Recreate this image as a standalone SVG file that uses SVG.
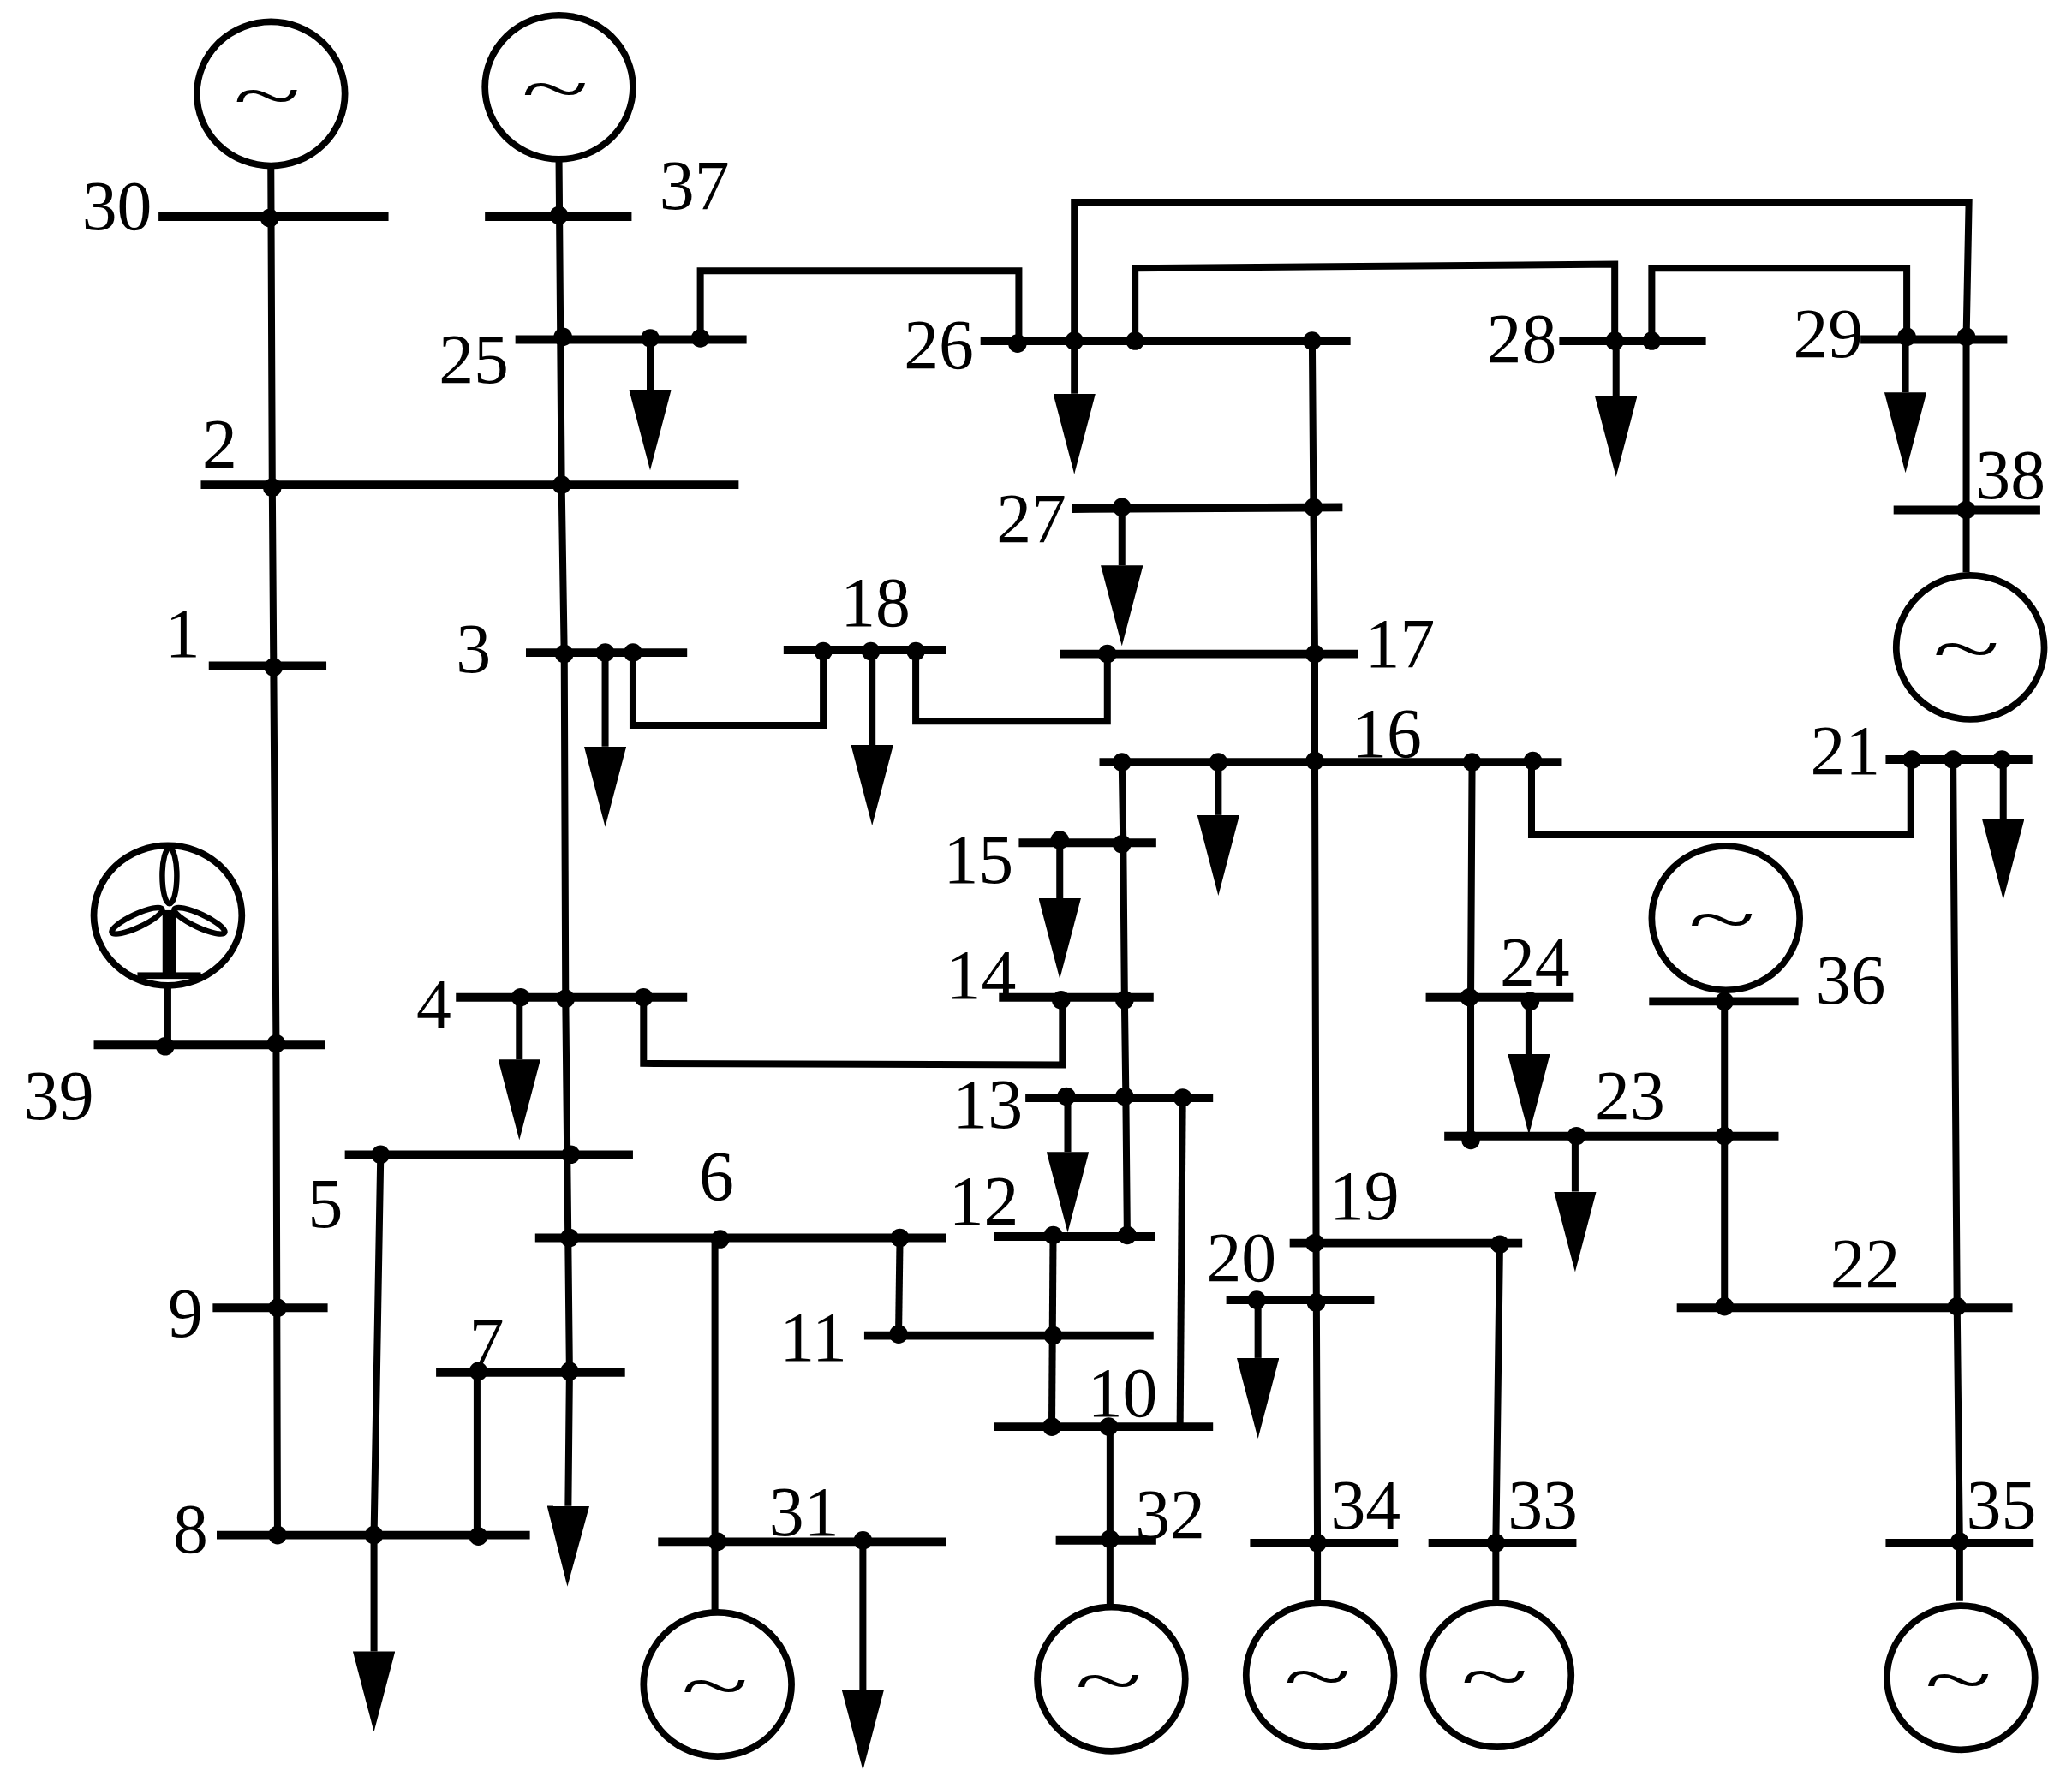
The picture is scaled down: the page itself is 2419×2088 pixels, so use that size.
<svg xmlns="http://www.w3.org/2000/svg" width="2419" height="2088" viewBox="0 0 2419 2088">
<defs>
<style>
.l{fill:none;stroke:#000;stroke-width:5.2}
.a{fill:none;stroke:#000;stroke-width:5.2;marker-end:url(#arrow)}
.b{stroke:#000;stroke-width:6.4}
.d{fill:#000}
.g{fill:#fff;stroke:#000;stroke-width:5}
text{font-family:"Liberation Serif","Times New Roman",serif;font-size:53px;fill:#000}
.t{font-size:94px;text-anchor:middle}
</style>
<marker id="arrow" markerUnits="userSpaceOnUse" markerWidth="61" markerHeight="32" refX="0" refY="16" orient="auto" viewBox="0 0 61 32"><polygon points="0,0 61,16 0,32" fill="#000"/></marker>
</defs>
<rect width="2419" height="2088" fill="#fff"/>
<g transform="scale(1.5427)">
<g id="connectors">
<polyline class="l" points="205,127 206,367 207,505 209,790 210,1162"/>
<polyline class="a" points="423,122 425,367 427,496 428,755 431,1039 430,1140"/>
<polyline class="l" points="530,257 530,205 771,205 771,258"/>
<polyline class="l" points="813,258 813,153 1490,153 1488,257 1488,433"/>
<polyline class="l" points="859,258 859,203 1222,200 1222,258"/>
<polyline class="l" points="1250,258 1250,203 1443,203 1443,257"/>
<polyline class="l" points="993,258 994,384 995,495 995,577 996,941 997,1168 997,1212"/>
<polyline class="l" points="479,494 479,549 623,549 623,493"/>
<polyline class="l" points="693,492 693,546 838,546 838,495"/>
<polyline class="l" points="849,577 850,638 851,755 852,831 853,936"/>
<polyline class="l" points="1159,577 1159,632 1446,632 1446,575"/>
<polyline class="l" points="1114,577 1113,755 1113,862"/>
<polyline class="l" points="1478,575 1481,989 1483,1168 1483,1212"/>
<polyline class="l" points="1305,750 1305,990"/>
<polyline class="l" points="487,755 487,805 804,806 804,757"/>
<polyline class="l" points="895,831 893,1080"/>
<polyline class="l" points="797,935 796,1080"/>
<polyline class="l" points="681,937 680,1010"/>
<polyline class="l" points="541,937 541,1220"/>
<polyline class="l" points="840,1080 840,1215"/>
<polyline class="l" points="1135,941 1132,1168 1132,1212"/>
<polyline class="l" points="361,1039 361,1162"/>
<polyline class="a" points="288,874 283,1162 283,1250"/>
<polyline class="a" points="492,257 492,295"/>
<polyline class="a" points="813,258 813,298"/>
<polyline class="a" points="1223,258 1223,300"/>
<polyline class="a" points="1442,257 1442,297"/>
<polyline class="a" points="849,384 849,428"/>
<polyline class="a" points="458,494 458,565"/>
<polyline class="a" points="660,492 660,564"/>
<polyline class="a" points="922,577 922,617"/>
<polyline class="a" points="1516,575 1516,620"/>
<polyline class="a" points="802,636 802,680"/>
<polyline class="a" points="393,755 393,802"/>
<polyline class="a" points="808,831 808,872"/>
<polyline class="a" points="1157,756 1157,798"/>
<polyline class="a" points="1192,860 1192,902"/>
<polyline class="a" points="952,984 952,1028"/>
<polyline class="a" points="653,1166 653,1279"/>
</g>
<g id="gen30"><ellipse class="g" cx="205" cy="71" rx="56" ry="54.5"/><text class="t" transform="translate(202 90) scale(1 .55)">~</text></g>
<g id="gen37"><ellipse class="g" cx="423" cy="66" rx="56" ry="54.5"/><text class="t" transform="translate(420 85) scale(1 .55)">~</text></g>
<g id="gen38"><ellipse class="g" cx="1491" cy="490" rx="56" ry="54.5"/><text class="t" transform="translate(1488 509) scale(1 .55)">~</text></g>
<g id="gen36"><ellipse class="g" cx="1306" cy="695" rx="56" ry="54.5"/><text class="t" transform="translate(1303 714) scale(1 .55)">~</text></g>
<g id="gen31"><ellipse class="g" cx="543" cy="1275" rx="56" ry="54.5"/><text class="t" transform="translate(541 1294) scale(1 .55)">~</text></g>
<g id="gen32"><ellipse class="g" cx="841" cy="1271" rx="56" ry="54.5"/><text class="t" transform="translate(839 1290) scale(1 .55)">~</text></g>
<g id="gen34"><ellipse class="g" cx="999" cy="1268" rx="56" ry="54.5"/><text class="t" transform="translate(997 1287) scale(1 .55)">~</text></g>
<g id="gen33"><ellipse class="g" cx="1133" cy="1268" rx="56" ry="54.5"/><text class="t" transform="translate(1131 1287) scale(1 .55)">~</text></g>
<g id="gen35"><ellipse class="g" cx="1484" cy="1270" rx="56" ry="54.5"/><text class="t" transform="translate(1482 1289) scale(1 .55)">~</text></g>
<g id="wind39">
<line class="l" x1="127" y1="748" x2="127" y2="790"/>
<ellipse class="g" cx="127" cy="693" rx="56" ry="53"/>
<rect x="123" y="689" width="10.5" height="48" fill="#000"/>
<rect x="104" y="736" width="48" height="5" fill="#000"/>
<ellipse cx="128.3" cy="663" rx="5.5" ry="21" fill="none" stroke="#000" stroke-width="4.2"/>
<ellipse cx="103.7" cy="697" rx="21" ry="5" fill="none" stroke="#000" stroke-width="4.2" transform="rotate(-25 103.7 697)"/>
<ellipse cx="151" cy="697" rx="21" ry="5" fill="none" stroke="#000" stroke-width="4.2" transform="rotate(25 151 697)"/>
</g>
<g id="bus30"><line class="b" x1="120" y1="164" x2="294" y2="164"/><circle class="d" cx="204" cy="165" r="7"/><text x="62" y="174">30</text></g>
<g id="bus37"><line class="b" x1="367" y1="164" x2="478" y2="164"/><circle class="d" cx="423" cy="163" r="7"/><text x="499" y="158">37</text></g>
<g id="bus25"><line class="b" x1="390" y1="257" x2="565" y2="257"/><circle class="d" cx="426" cy="255" r="7"/><circle class="d" cx="492" cy="256" r="7"/><circle class="d" cx="530" cy="256" r="7"/><text x="332" y="290">25</text></g>
<g id="bus26"><line class="b" x1="742" y1="258" x2="1022" y2="258"/><circle class="d" cx="770" cy="260" r="7"/><circle class="d" cx="813" cy="258" r="7"/><circle class="d" cx="859" cy="258" r="7"/><circle class="d" cx="993" cy="258" r="7"/><text x="684" y="279">26</text></g>
<g id="bus28"><line class="b" x1="1180" y1="258" x2="1291" y2="258"/><circle class="d" cx="1222" cy="258" r="7"/><circle class="d" cx="1250" cy="258" r="7"/><text x="1125" y="274">28</text></g>
<g id="bus29"><line class="b" x1="1408" y1="257" x2="1519" y2="257"/><circle class="d" cx="1443" cy="255" r="7"/><circle class="d" cx="1488" cy="255" r="7"/><text x="1357" y="270">29</text></g>
<g id="bus2"><line class="b" x1="152" y1="367" x2="559" y2="367"/><circle class="d" cx="206" cy="369" r="7"/><circle class="d" cx="425" cy="367" r="7"/><text x="153" y="354">2</text></g>
<g id="bus38"><line class="b" x1="1433" y1="386" x2="1544" y2="386"/><circle class="d" cx="1488" cy="386" r="7"/><text x="1495" y="377">38</text></g>
<g id="bus27"><line class="b" x1="811" y1="385" x2="1016" y2="384"/><circle class="d" cx="849" cy="384" r="7"/><circle class="d" cx="994" cy="384" r="7"/><text x="754" y="410">27</text></g>
<g id="bus1"><line class="b" x1="158" y1="504" x2="247" y2="504"/><circle class="d" cx="207" cy="505" r="7"/><text x="125" y="497">1</text></g>
<g id="bus3"><line class="b" x1="398" y1="494" x2="520" y2="494"/><circle class="d" cx="427" cy="495" r="7"/><circle class="d" cx="458" cy="494" r="7"/><circle class="d" cx="479" cy="494" r="7"/><text x="345" y="509">3</text></g>
<g id="bus18"><line class="b" x1="593" y1="492" x2="716" y2="492"/><circle class="d" cx="623" cy="493" r="7"/><circle class="d" cx="659" cy="493" r="7"/><circle class="d" cx="693" cy="493" r="7"/><text x="636" y="474">18</text></g>
<g id="bus17"><line class="b" x1="802" y1="495" x2="1028" y2="495"/><circle class="d" cx="838" cy="495" r="7"/><circle class="d" cx="995" cy="495" r="7"/><text x="1033" y="505">17</text></g>
<g id="bus16"><line class="b" x1="832" y1="577" x2="1182" y2="577"/><circle class="d" cx="849" cy="577" r="7"/><circle class="d" cx="922" cy="577" r="7"/><circle class="d" cx="995" cy="576" r="7"/><circle class="d" cx="1114" cy="577" r="7"/><circle class="d" cx="1160" cy="576" r="7"/><text x="1023" y="573">16</text></g>
<g id="bus21"><line class="b" x1="1427" y1="575" x2="1538" y2="575"/><circle class="d" cx="1447" cy="575" r="7"/><circle class="d" cx="1478" cy="575" r="7"/><circle class="d" cx="1515" cy="575" r="7"/><text x="1370" y="586">21</text></g>
<g id="bus15"><line class="b" x1="771" y1="638" x2="875" y2="638"/><circle class="d" cx="802" cy="636" r="7"/><circle class="d" cx="849" cy="639" r="7"/><text x="714" y="668">15</text></g>
<g id="bus24"><line class="b" x1="1079" y1="755" x2="1191" y2="755"/><circle class="d" cx="1112" cy="755" r="7"/><circle class="d" cx="1158" cy="758" r="7"/><text x="1135" y="746">24</text></g>
<g id="bus14"><line class="b" x1="756" y1="755" x2="873" y2="755"/><circle class="d" cx="803" cy="757" r="7"/><circle class="d" cx="851" cy="757" r="7"/><text x="716" y="756">14</text></g>
<g id="bus4"><line class="b" x1="345" y1="755" x2="520" y2="755"/><circle class="d" cx="394" cy="755" r="7"/><circle class="d" cx="428" cy="756" r="7"/><circle class="d" cx="487" cy="755" r="7"/><text x="315" y="778">4</text></g>
<g id="bus36"><line class="b" x1="1248" y1="758" x2="1361" y2="758"/><circle class="d" cx="1305" cy="758" r="7"/><text x="1374" y="760">36</text></g>
<g id="bus39"><line class="b" x1="71" y1="791" x2="246" y2="791"/><circle class="d" cx="125" cy="792" r="7"/><circle class="d" cx="209" cy="790" r="7"/><text x="18" y="847">39</text></g>
<g id="bus13"><line class="b" x1="776" y1="831" x2="918" y2="831"/><circle class="d" cx="807" cy="830" r="7"/><circle class="d" cx="851" cy="830" r="7"/><circle class="d" cx="895" cy="831" r="7"/><text x="721" y="854">13</text></g>
<g id="bus23"><line class="b" x1="1093" y1="860" x2="1346" y2="860"/><circle class="d" cx="1113" cy="863" r="7"/><circle class="d" cx="1193" cy="860" r="7"/><circle class="d" cx="1305" cy="860" r="7"/><text x="1207" y="847">23</text></g>
<g id="bus5"><line class="b" x1="261" y1="874" x2="479" y2="874"/><circle class="d" cx="288" cy="874" r="7"/><circle class="d" cx="432" cy="874" r="7"/><text x="233" y="929">5</text></g>
<g id="bus6"><line class="b" x1="405" y1="937" x2="716" y2="937"/><circle class="d" cx="431" cy="937" r="7"/><circle class="d" cx="545" cy="938" r="7"/><circle class="d" cx="681" cy="937" r="7"/><text x="529" y="908">6</text></g>
<g id="bus12"><line class="b" x1="752" y1="936" x2="874" y2="936"/><circle class="d" cx="797" cy="935" r="7"/><circle class="d" cx="853" cy="935" r="7"/><text x="718" y="927">12</text></g>
<g id="bus19"><line class="b" x1="976" y1="941" x2="1152" y2="941"/><circle class="d" cx="995" cy="941" r="7"/><circle class="d" cx="1135" cy="942" r="7"/><text x="1006" y="923">19</text></g>
<g id="bus20"><line class="b" x1="928" y1="984" x2="1040" y2="984"/><circle class="d" cx="951" cy="984" r="7"/><circle class="d" cx="996" cy="986" r="7"/><text x="913" y="970">20</text></g>
<g id="bus22"><line class="b" x1="1269" y1="990" x2="1523" y2="990"/><circle class="d" cx="1305" cy="989" r="7"/><circle class="d" cx="1481" cy="989" r="7"/><text x="1385" y="974">22</text></g>
<g id="bus9"><line class="b" x1="161" y1="990" x2="248" y2="990"/><circle class="d" cx="210" cy="990" r="7"/><text x="127" y="1012">9</text></g>
<g id="bus11"><line class="b" x1="654" y1="1011" x2="873" y2="1011"/><circle class="d" cx="680" cy="1010" r="7"/><circle class="d" cx="797" cy="1011" r="7"/><text x="590" y="1030">11</text></g>
<g id="bus7"><line class="b" x1="330" y1="1039" x2="473" y2="1039"/><circle class="d" cx="362" cy="1038" r="7"/><circle class="d" cx="431" cy="1038" r="7"/><text x="355" y="1034">7</text></g>
<g id="bus10"><line class="b" x1="752" y1="1080" x2="918" y2="1080"/><circle class="d" cx="796" cy="1080" r="7"/><circle class="d" cx="839" cy="1080" r="7"/><text x="823" y="1072">10</text></g>
<g id="bus8"><line class="b" x1="164" y1="1162" x2="401" y2="1162"/><circle class="d" cx="210" cy="1162" r="7"/><circle class="d" cx="283" cy="1162" r="7"/><circle class="d" cx="362" cy="1163" r="7"/><text x="131" y="1175">8</text></g>
<g id="bus31"><line class="b" x1="498" y1="1167" x2="716" y2="1167"/><circle class="d" cx="543" cy="1167" r="7"/><circle class="d" cx="653" cy="1166" r="7"/><text x="582" y="1162">31</text></g>
<g id="bus32"><line class="b" x1="799" y1="1166" x2="875" y2="1166"/><circle class="d" cx="840" cy="1165" r="7"/><text x="859" y="1164">32</text></g>
<g id="bus34"><line class="b" x1="946" y1="1168" x2="1058" y2="1168"/><circle class="d" cx="997" cy="1168" r="7"/><text x="1007" y="1157">34</text></g>
<g id="bus33"><line class="b" x1="1081" y1="1168" x2="1193" y2="1168"/><circle class="d" cx="1132" cy="1168" r="7"/><text x="1141" y="1157">33</text></g>
<g id="bus35"><line class="b" x1="1427" y1="1168" x2="1539" y2="1168"/><circle class="d" cx="1483" cy="1167" r="7"/><text x="1488" y="1157">35</text></g>
</g>
</svg>
